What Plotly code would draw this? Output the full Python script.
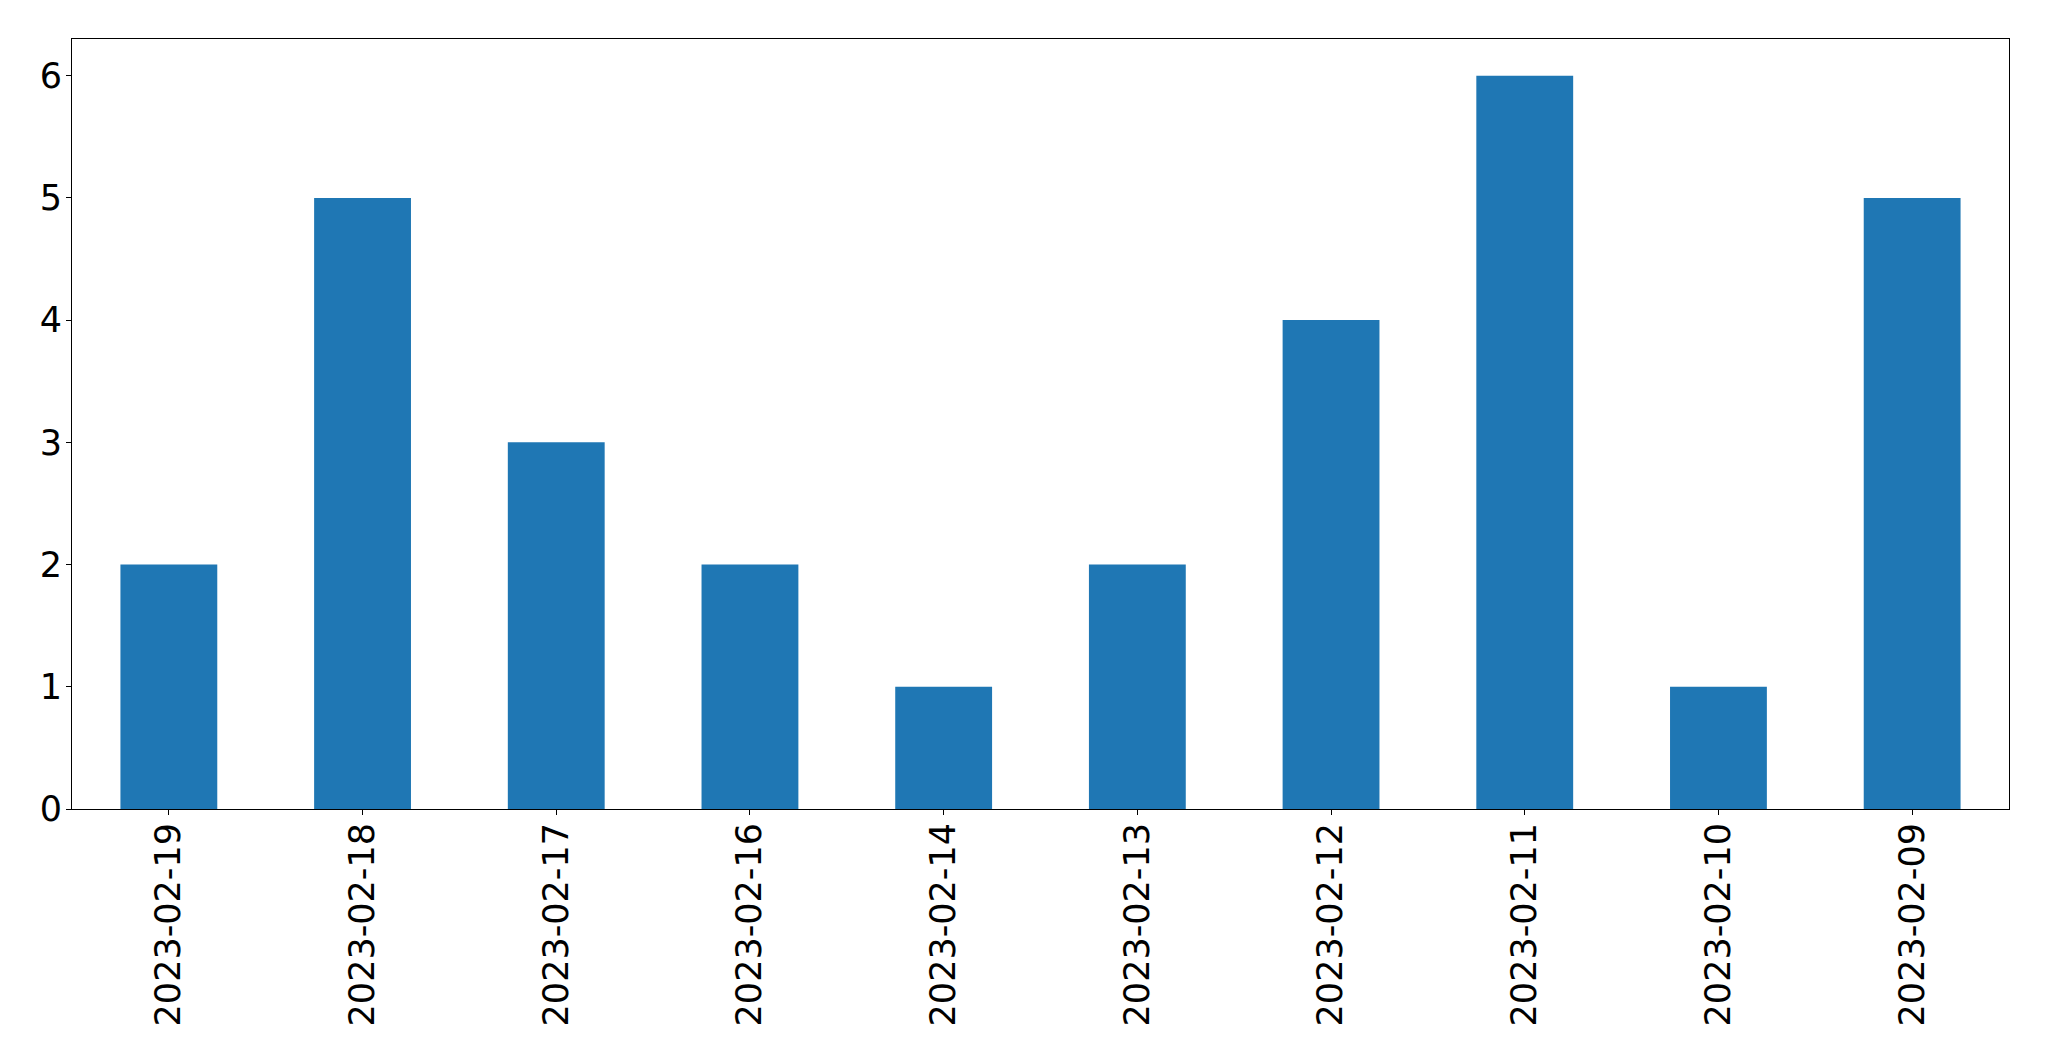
import plotly.graph_objects as go

categories = ["2023-02-19", "2023-02-18", "2023-02-17", "2023-02-16", "2023-02-14",
              "2023-02-13", "2023-02-12", "2023-02-11", "2023-02-10", "2023-02-09"]
values = [2, 5, 3, 2, 1, 2, 4, 6, 1, 5]
y_ticks = [0, 1, 2, 3, 4, 5, 6]

fig = go.Figure(go.Bar(x=categories, y=values, marker_color="#1f77b4",
                       marker_line_width=0, width=0.5))

axis_common = dict(showline=True, linecolor="black", linewidth=1, mirror=True,
                   ticks="outside", ticklen=5, tickcolor="black", tickwidth=1,
                   showgrid=False, zeroline=False,
                   tickfont=dict(family="DejaVu Sans", size=35, color="black"))

fig.update_xaxes(type="category", range=[-0.5, 9.5], tickangle=-90,
                 ticklabelstandoff=-6, **axis_common)
fig.update_yaxes(range=[0, 6.3], tickvals=y_ticks, ticklabelstandoff=-3, **axis_common)

fig.update_layout(width=2049, height=1061, plot_bgcolor="white", paper_bgcolor="white",
                  margin=dict(l=64, r=48, t=31, b=260, pad=0, autoexpand=False),
                  showlegend=False, bargap=0.5)

fig.write_html("out.html", config={"displayModeBar": False})
